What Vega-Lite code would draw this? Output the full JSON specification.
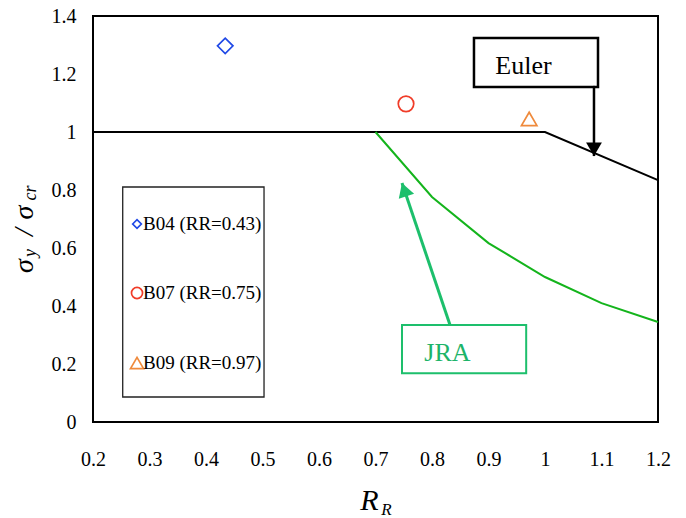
{
  "$schema": "https://vega.github.io/schema/vega-lite/v6.json",
  "width": 565,
  "height": 406,
  "autosize": {"type": "none"},
  "padding": {"left": 93, "top": 16, "right": 28, "bottom": 96},
  "background": "white",
  "config": {
    "view": {"stroke": "black", "strokeWidth": 2},
    "font": "Liberation Serif",
    "text": {"font": "Liberation Serif", "color": "black"}
  },
  "datasets": {
    "euler": [{"x": 0.2, "y": 1}, {"x": 1.0, "y": 1}, {"x": 1.2, "y": 0.834}],
    "jra": [{"x": 0.7, "y": 1}, {"x": 0.8, "y": 0.776}, {"x": 0.9, "y": 0.617}, {"x": 1.0, "y": 0.5}, {"x": 1.1, "y": 0.41}, {"x": 1.2, "y": 0.345}],
    "specimens": [
      {"series": "B04 (RR=0.43)", "x": 0.434, "y": 1.297},
      {"series": "B07 (RR=0.75)", "x": 0.754, "y": 1.097},
      {"series": "B09 (RR=0.97)", "x": 0.972, "y": 1.045}
    ],
    "legendEntries": [
      {"series": "B04 (RR=0.43)", "x": 0.2779, "tx": 0.2885, "y": 0.6828},
      {"series": "B07 (RR=0.75)", "x": 0.2779, "tx": 0.2885, "y": 0.4448},
      {"series": "B09 (RR=0.97)", "x": 0.2779, "tx": 0.2885, "y": 0.2034}
    ],
    "legendBox": [{"x": 0.2526, "x2": 0.5027, "y": 0.8103, "y2": 0.0862}],
    "eulerBox": [{"x": 0.8743, "x2": 1.0938, "y": 1.3241, "y2": 1.1552, "label": "Euler", "tx": 0.9619, "ty": 1.2276}],
    "jraBox": [{"x": 0.7469, "x2": 0.9667, "y": 0.3345, "y2": 0.168, "label": "JRA", "tx": 0.8274, "ty": 0.2379}],
    "eulerArrow": [{"x": 1.0867, "y": 1.159, "y2": 0.917}],
    "jraArrow": [{"x": 0.8319, "y": 0.3345, "x2": 0.7469, "y2": 0.8241}],
    "ytitleMain": [{"x": 0.0938, "y": 0.538, "t": "σ"}, {"x": 0.0938, "y": 0.655, "t": "/"}, {"x": 0.0938, "y": 0.722, "t": "σ"}],
    "ytitleSub": [{"x": 0.0991, "y": 0.583, "t": "y"}, {"x": 0.0991, "y": 0.79, "t": "cr"}],
    "xtitleSub": [{"x": 0.7195, "y": -0.321, "t": "R"}]
  },
  "encoding": {
    "x": {
      "field": "x", "type": "quantitative",
      "scale": {"domain": [0.2, 1.2], "nice": false, "zero": false},
      "axis": {
        "values": [0.2, 0.3, 0.4, 0.5, 0.6, 0.7, 0.8, 0.9, 1, 1.1, 1.2],
        "format": "~g", "grid": false, "domain": false, "ticks": false, "tickSize": 0,
        "labelFont": "Liberation Serif", "labelFontSize": 20, "labelColor": "black",
        "labelBaseline": "alphabetic", "labelPadding": 43, "labelFlush": false, "labelOverlap": false,
        "title": "R", "titleFont": "Liberation Serif", "titleFontSize": 30, "titleFontStyle": "italic",
        "titleFontWeight": "normal", "titleColor": "black", "titleX": 276, "titleY": 87,
        "titleBaseline": "alphabetic", "titleAlign": "center", "titleAnchor": null
      }
    },
    "y": {
      "field": "y", "type": "quantitative",
      "scale": {"domain": [0, 1.4], "nice": false, "zero": false},
      "axis": {
        "values": [0, 0.2, 0.4, 0.6, 0.8, 1, 1.2, 1.4],
        "format": "~g", "grid": false, "domain": false, "ticks": false, "tickSize": 0,
        "labelFont": "Liberation Serif", "labelFontSize": 20, "labelColor": "black",
        "labelPadding": 17, "labelFlush": false, "labelOverlap": false,
        "title": null
      }
    }
  },
  "layer": [
    {"data": {"name": "euler"}, "mark": {"type": "line", "color": "black", "strokeWidth": 2}},
    {"data": {"name": "jra"}, "mark": {"type": "line", "color": "#14b41c", "strokeWidth": 2}},
    {
      "data": {"name": "specimens"},
      "mark": {"type": "point", "filled": false, "strokeWidth": 1.7, "size": 240, "opacity": 1},
      "encoding": {
        "shape": {"field": "series", "type": "nominal", "scale": {"domain": ["B04 (RR=0.43)", "B07 (RR=0.75)", "B09 (RR=0.97)"], "range": ["diamond", "circle", "triangle-up"]}, "legend": null},
        "color": {"field": "series", "type": "nominal", "scale": {"domain": ["B04 (RR=0.43)", "B07 (RR=0.75)", "B09 (RR=0.97)"], "range": ["#1f48e6", "#f03c28", "#ef8a3c"]}, "legend": null}
      }
    },
    {
      "data": {"name": "legendBox"},
      "mark": {"type": "rect", "filled": false, "stroke": "#222222", "strokeWidth": 1.3},
      "encoding": {"x2": {"field": "x2"}, "y2": {"field": "y2"}}
    },
    {
      "data": {"name": "legendEntries"},
      "mark": {"type": "point", "filled": false, "strokeWidth": 1.7, "opacity": 1},
      "encoding": {
        "shape": {"field": "series", "type": "nominal", "legend": null},
        "color": {"field": "series", "type": "nominal", "legend": null},
        "size": {"field": "series", "type": "nominal", "scale": {"domain": ["B04 (RR=0.43)", "B07 (RR=0.75)", "B09 (RR=0.97)"], "range": [75, 170, 140]}, "legend": null}
      }
    },
    {
      "data": {"name": "legendEntries"},
      "mark": {"type": "text", "align": "left", "baseline": "middle", "fontSize": 19, "font": "Liberation Serif", "color": "black"},
      "encoding": {"x": {"field": "tx", "type": "quantitative"}, "text": {"field": "series"}}
    },
    {
      "data": {"name": "eulerBox"},
      "mark": {"type": "rect", "filled": false, "stroke": "black", "strokeWidth": 2.5},
      "encoding": {"x2": {"field": "x2"}, "y2": {"field": "y2"}}
    },
    {
      "data": {"name": "eulerBox"},
      "mark": {"type": "text", "align": "center", "baseline": "middle", "fontSize": 26, "font": "Liberation Serif", "color": "black"},
      "encoding": {"x": {"field": "tx", "type": "quantitative"}, "y": {"field": "ty", "type": "quantitative"}, "text": {"field": "label"}}
    },
    {
      "data": {"name": "eulerArrow"},
      "mark": {"type": "rule", "color": "black", "strokeWidth": 2.5},
      "encoding": {"y2": {"field": "y2"}}
    },
    {
      "data": {"name": "eulerArrow"},
      "mark": {"type": "point", "shape": "triangle-down", "filled": true, "color": "black", "size": 250, "opacity": 1, "yOffset": -6.8},
      "encoding": {"y": {"field": "y2", "type": "quantitative"}}
    },
    {
      "data": {"name": "jraBox"},
      "mark": {"type": "rect", "filled": false, "stroke": "#1dbf6c", "strokeWidth": 2},
      "encoding": {"x2": {"field": "x2"}, "y2": {"field": "y2"}}
    },
    {
      "data": {"name": "jraBox"},
      "mark": {"type": "text", "align": "center", "baseline": "middle", "fontSize": 26, "font": "Liberation Serif", "color": "#1db46a"},
      "encoding": {"x": {"field": "tx", "type": "quantitative"}, "y": {"field": "ty", "type": "quantitative"}, "text": {"field": "label"}}
    },
    {
      "data": {"name": "jraArrow"},
      "mark": {"type": "rule", "color": "#1dbf6c", "strokeWidth": 3},
      "encoding": {"x2": {"field": "x2"}, "y2": {"field": "y2"}}
    },
    {
      "data": {"name": "jraArrow"},
      "mark": {"type": "point", "shape": "triangle-up", "filled": true, "color": "#1dbf6c", "size": 260, "opacity": 1, "angle": 341.3, "xOffset": 2.2, "yOffset": 6.6},
      "encoding": {"x": {"field": "x2", "type": "quantitative"}, "y": {"field": "y2", "type": "quantitative"}}
    },
    {
      "data": {"name": "ytitleMain"},
      "mark": {"type": "text", "angle": 270, "align": "center", "baseline": "alphabetic", "fontSize": 28, "fontStyle": "italic", "font": "Liberation Serif", "color": "black"},
      "encoding": {"text": {"field": "t"}}
    },
    {
      "data": {"name": "ytitleSub"},
      "mark": {"type": "text", "angle": 270, "align": "center", "baseline": "alphabetic", "fontSize": 18, "fontStyle": "italic", "font": "Liberation Serif", "color": "black"},
      "encoding": {"text": {"field": "t"}}
    },
    {
      "data": {"name": "xtitleSub"},
      "mark": {"type": "text", "align": "center", "baseline": "alphabetic", "fontSize": 17, "fontStyle": "italic", "font": "Liberation Serif", "color": "black"},
      "encoding": {"text": {"field": "t"}}
    }
  ]
}
